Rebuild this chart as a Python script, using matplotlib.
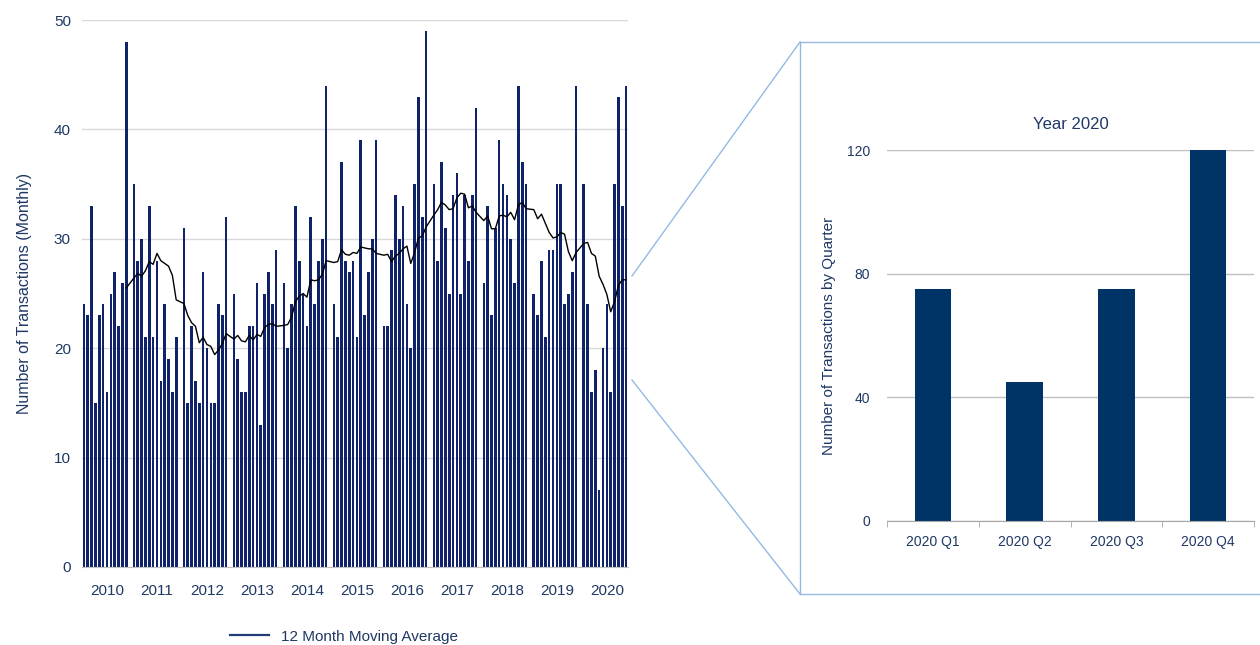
import numpy as np
import pandas as pd
import matplotlib
matplotlib.use("Agg")
import matplotlib.pyplot as plt
from matplotlib.lines import Line2D

plt.rcParams['font.family'] = ['Liberation Sans', 'DejaVu Sans']

# monthly transactions, one list per year (Jan..Dec)
years = [2010, 2011, 2012, 2013, 2014, 2015, 2016, 2017, 2018, 2019, 2020]
m2010 = [24, 23, 33, 15, 23, 24, 16, 25, 27, 22, 26, 48]
m2011 = [35, 28, 30, 21, 33, 21, 28, 17, 24, 19, 16, 21]
m2012 = [31, 15, 22, 17, 15, 27, 20, 15, 15, 24, 23, 32]
m2013 = [25, 19, 16, 16, 22, 22, 26, 13, 25, 27, 24, 29]
m2014 = [26, 20, 24, 33, 28, 25, 22, 32, 24, 28, 30, 44]
m2015 = [24, 21, 37, 28, 27, 28, 21, 39, 23, 27, 30, 39]
m2016 = [22, 22, 29, 34, 30, 33, 24, 20, 35, 43, 32, 49]
m2017 = [35, 28, 37, 31, 25, 34, 36, 25, 34, 28, 34, 42]
m2018 = [26, 33, 23, 31, 39, 35, 34, 30, 26, 44, 37, 35]
m2019 = [25, 23, 28, 21, 29, 29, 35, 35, 24, 25, 27, 44]
m2020 = [35, 24, 16, 18, 7, 20, 24, 16, 35, 43, 33, 44]

quarters = ['2020 Q1', '2020 Q2', '2020 Q3', '2020 Q4']
q2020 = [75, 45, 75, 120]

monthly = [m2010, m2011, m2012, m2013, m2014, m2015, m2016, m2017, m2018, m2019, m2020]

# the source sheet has a blank slot between years; the moving average skips it
vals, pos = [], []
for i, ys in enumerate(monthly):
    for j, v in enumerate(ys):
        vals.append(v)
        pos.append(13 * i + j)
vals = np.array(vals, dtype=float)
pos = np.array(pos)
nslots = pos[-1] + 1
ma = pd.Series(vals).rolling(12).mean()

navy = '#10226a'
txt = '#1f3864'
grid = '#d9d9d9'
box = '#95b9e3'

fig = plt.figure(figsize=(12.6, 6.45), dpi=100)
W, H = 1260, 645

def px(l, t, r, b):
    return [l / W, 1 - b / H, (r - l) / W, (b - t) / H]

# ---- monthly chart
ax = fig.add_axes(px(82, 20, 628, 567))
ax.bar(pos, vals, width=0.68, color=navy, zorder=2)
ax.plot(pos[11:], ma[11:], color='black', lw=1.0, zorder=3)
ax.set_xlim(-0.5, nslots - 0.5)
ax.set_ylim(0, 50)
ax.set_yticks(range(0, 51, 10))
ax.yaxis.grid(True, color=grid, lw=1)
ax.set_axisbelow(True)
ax.set_xticks([13 * i + 6 for i in range(len(years))])
ax.set_xticklabels([str(y) for y in years])
for s in ['top', 'right', 'left']:
    ax.spines[s].set_visible(False)
ax.spines['bottom'].set_color('#bfbfbf')
ax.tick_params(axis='x', length=0, labelsize=11, colors=txt, pad=12)
ax.tick_params(axis='y', length=0, labelsize=11, colors=txt, pad=8)
ax.set_ylabel('Number of Transactions (Monthly)', fontsize=11.5, color=txt, labelpad=16)

fig.legend(handles=[Line2D([0], [0], color='#1f3c78', lw=1.6)],
           labels=['12 Month Moving Average'], loc='center',
           bbox_to_anchor=(0.273, 0.013), frameon=False, fontsize=11,
           handlelength=2.6, labelcolor=txt)

# ---- quarterly zoom chart
ax2 = fig.add_axes(px(887, 150, 1254, 521))
xq = np.arange(len(quarters))
ax2.bar(xq, q2020, width=0.4, color='#003366', zorder=2)
ax2.set_xlim(-0.5, len(quarters) - 0.5)
ax2.set_ylim(0, 120)
ax2.set_yticks([0, 40, 80, 120])
ax2.yaxis.grid(True, color='#bfbfbf', lw=1)
ax2.set_axisbelow(True)
ax2.set_xticks(xq)
ax2.set_xticklabels(quarters)
ax2.set_xticks(np.arange(-0.5, len(quarters), 1), minor=True)
for s in ['top', 'right', 'left']:
    ax2.spines[s].set_visible(False)
ax2.spines['bottom'].set_color('#a6a6a6')
ax2.tick_params(axis='x', which='major', length=0, labelsize=10, colors=txt, pad=10)
ax2.tick_params(axis='x', which='minor', length=4, color='#a6a6a6', direction='out')
ax2.tick_params(axis='y', length=0, labelsize=10, colors=txt, pad=12)
ax2.set_ylabel('Number of Transactions by Quarter', fontsize=11, color=txt, labelpad=8)
ax2.set_title('Year 2020', fontsize=12, color=txt, pad=15)

# ---- callout box and connector lines (figure pixels)
def fline(xs, ys):
    fig.add_artist(Line2D([x / W for x in xs], [1 - y / H for y in ys],
                          color=box, lw=1.0, transform=fig.transFigure))

fline([800, 1260], [42, 42])
fline([800, 800], [42, 594])
fline([800, 1260], [594, 594])
fline([632, 800], [276, 42])
fline([632, 800], [380, 594])

fig.savefig('out.png', dpi=100)
